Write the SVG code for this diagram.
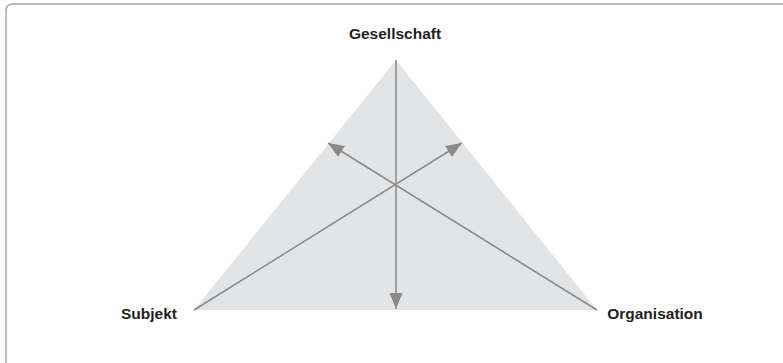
<svg xmlns="http://www.w3.org/2000/svg" width="783" height="363" viewBox="0 0 783 363">
<style>
.lbl{font-family:"Liberation Sans",Arial,sans-serif;font-weight:bold;font-size:15.5px;fill:#231f20}
.ln{stroke:#8a8a8a;stroke-width:1.5;fill:none}
</style>
<defs>
<marker id="ah" markerWidth="16" markerHeight="13" refX="16" refY="6.5" orient="auto" markerUnits="userSpaceOnUse">
<path d="M0,0 L16,6.5 L0,13 Z" fill="#8a8a8a"/>
</marker>
</defs>
<rect width="783" height="363" fill="#ffffff"/>
<path d="M6,363 V11 Q6,4 13,4 H783" fill="none" stroke="#a6a6a6" stroke-width="1.5"/>
<g id="triangle">
<polygon points="396,60 194,310 597,310" fill="#e3e4e5"/>
</g>
<g id="connectors">
<line class="ln" x1="396" y1="60" x2="396" y2="309" marker-end="url(#ah)"/>
<line class="ln" x1="194" y1="310" x2="462" y2="143" marker-end="url(#ah)"/>
<line class="ln" x1="597" y1="310" x2="328" y2="143" marker-end="url(#ah)"/>
</g>
<g id="gesellschaft"><text class="lbl" x="395" y="39" text-anchor="middle">Gesellschaft</text></g>
<g id="subjekt"><text class="lbl" x="149" y="319" text-anchor="middle">Subjekt</text></g>
<g id="organisation"><text class="lbl" x="655" y="319" text-anchor="middle">Organisation</text></g>
</svg>
